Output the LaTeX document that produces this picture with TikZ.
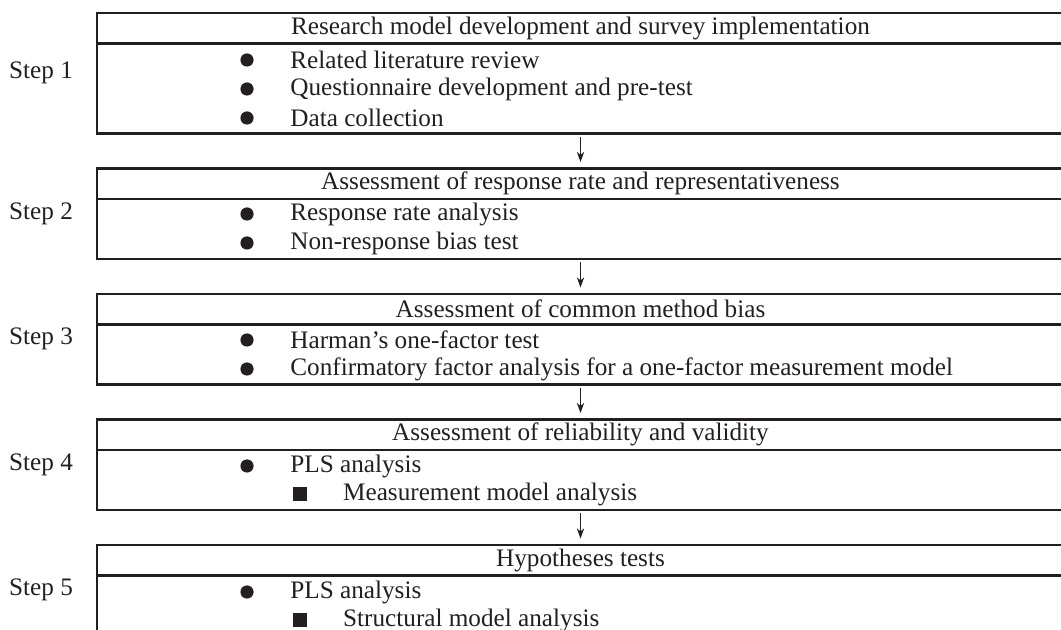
\documentclass[tikz,border=0pt]{standalone}
\usepackage{fontspec}
\setmainfont{Liberation Serif}
\usetikzlibrary{positioning,arrows.meta}
\definecolor{ink}{RGB}{35,31,32}

\begin{document}
\begin{tikzpicture}[x=0.5pt,y=-0.5pt,
    every node/.style={font=\fontsize{12.6}{15}\selectfont,text=ink},
    head/.style={draw=ink,line width=1.3pt,outer sep=0pt,inner sep=0pt,
        minimum width=483.5pt,minimum height=15.25pt},
    body/.style={head,minimum height=#1},
    dot/.style={circle,fill=ink,minimum size=6.6pt,inner sep=0pt},
    sq/.style={rectangle,fill=ink,minimum size=7.4pt,inner sep=0pt},
    item/.style={anchor=west,inner sep=0pt},
    arr/.style={-{Stealth[length=5pt,width=3.6pt,inset=1.5pt]},draw=ink,line width=0.8pt,
        shorten <=1.75pt,shorten >=3.25pt}]
    \useasboundingbox (0,0) rectangle (1061,630);
    \clip (0,0) rectangle (1061,630);
    % boxes
    \node[head] (h1) at (580.5,28.25) {Research model development and survey implementation};
    \node[body=45pt,below=0pt of h1] (b1) {};
    \node[head,below=17.5pt of b1] (h2) {Assessment of response rate and representativeness};
    \node[body=30pt,below=0pt of h2] (b2) {};
    \node[head,below=17.5pt of b2] (h3) {Assessment of common method bias};
    \node[body=30pt,below=0pt of h3] (b3) {};
    \node[head,below=17.5pt of b3] (h4) {Assessment of reliability and validity};
    \node[body=30pt,below=0pt of h4] (b4) {};
    \node[head,below=17.5pt of b4] (h5) {Hypotheses tests};
    \node[body=30pt,below=0pt of h5] (b5) {};
    % step labels
    \node (s1) at (41,73) {Step 1};
    \node (s2) at (41,213.5) {Step 2};
    \node (s3) at (41,339) {Step 3};
    \node (s4) at (41,465) {Step 4};
    \node (s5) at (41,590) {Step 5};
    % step 1
    \node[dot] (d1a) at (247,60) {};
    \node[item,right=18pt of d1a] (t1a) {Related literature review};
    \node[dot] (d1b) at (247,89) {};
    \node[item,right=18pt of d1b] (t1b) {Questionnaire development and pre-test};
    \node[dot] (d1c) at (247,118) {};
    \node[item,right=18pt of d1c] (t1c) {Data collection};
    % step 2
    \node[dot] (d2a) at (247,214) {};
    \node[item,right=18pt of d2a] (t2a) {Response rate analysis};
    \node[dot] (d2b) at (247,243) {};
    \node[item,right=18pt of d2b] (t2b) {Non-response bias test};
    % step 3
    \node[dot] (d3a) at (247,340) {};
    \node[item,right=18pt of d3a] (t3a) {Harman's one-factor test};
    \node[dot] (d3b) at (247,369) {};
    \node[item,right=18pt of d3b] (t3b) {Confirmatory factor analysis for a one-factor measurement model};
    % step 4
    \node[dot] (d4a) at (247,466) {};
    \node[item,right=18pt of d4a] (t4a) {PLS analysis};
    \node[sq] (q4a) at (300,494) {};
    \node[item,right=17.5pt of q4a] (u4a) {Measurement model analysis};
    % step 5
    \node[dot] (d5a) at (247,592) {};
    \node[item,right=18pt of d5a] (t5a) {PLS analysis};
    \node[sq] (q5a) at (300,620) {};
    \node[item,right=17.5pt of q5a] (u5a) {Structural model analysis};
    % arrows
    \foreach \a/\b in {b1/h2,b2/h3,b3/h4,b4/h5}
        \draw[arr] (\a.south) -- (\b.north);
\end{tikzpicture}
\end{document}
